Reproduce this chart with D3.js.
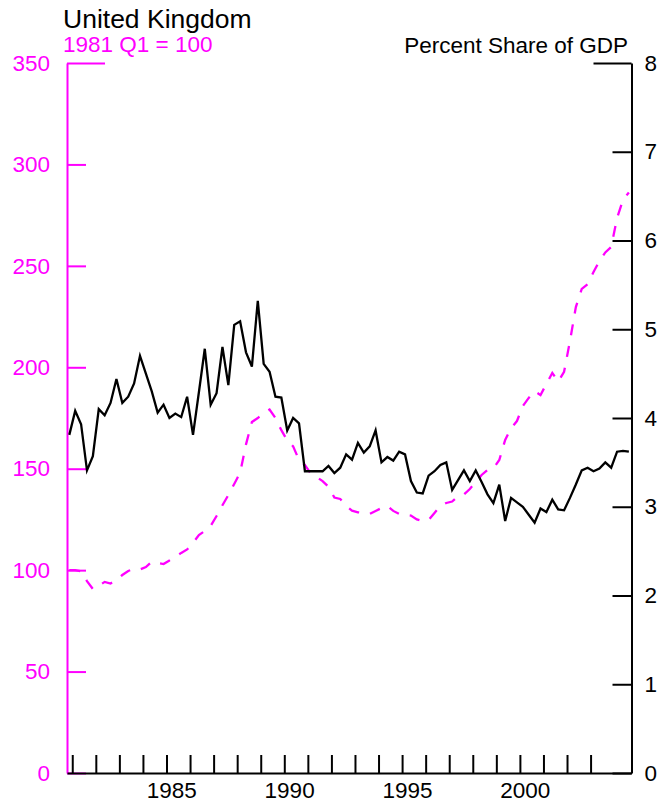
<!DOCTYPE html>
<html>
<head>
<meta charset="utf-8">
<script src="https://cdn.jsdelivr.net/npm/d3@7"></script>
<style>
  html, body { margin: 0; padding: 0; background: #fff; }
  svg { display: block; font-family: "Liberation Sans", Arial, Helvetica, sans-serif; }
</style>
</head>
<body>
<svg id="chart" width="669" height="804"></svg>
<script>
// ---- DATA ----
const years = [1981,1982,1983,1984,1985,1986,1987,1988,1989,1990,1991,1992,
               1993,1994,1995,1996,1997,1998,1999,2000,2001,2002,2003,2004];
const quarterNames = [1, 2, 3, 4];
const tickYears = [1981,1982,1983,1984,1985,1986,1987,1988,1989,1990,1991,1992,
                   1993,1994,1995,1996,1997,1998,1999,2000,2001,2002,2003];
const labelYears = [1985, 1990, 1995, 2000];
const leftTicks = [0, 50, 100, 150, 200, 250, 300, 350];
const rightTicks = [0, 1, 2, 3, 4, 5, 6, 7, 8];

// Index, 1981 Q1 = 100 (left axis, magenta dashed)
const indexSeries = [
  100.0, 100.0, 99.5, 94.6, 90.7, 92.2, 94.2, 93.4, 95.1, 97.6, 99.6, 100.6,
  100.3, 101.5, 104.2, 103.5, 103.0, 104.8, 106.5, 108.5, 110.2, 113.4, 117.3, 119.3,
  121.8, 126.7, 132.0, 137.0, 142.5, 148.0, 162.0, 173.0, 175.0, 177.5, 179.2, 175.0,
  169.0, 164.0, 161.0, 154.3, 151.8, 147.6, 145.9, 143.9, 141.1, 135.8, 135.1, 131.6,
  129.3, 128.5, 128.2, 127.7, 129.2, 130.6, 131.6, 129.2, 127.7, 127.4, 126.9, 125.0,
  124.2, 124.7, 128.2, 131.6, 133.1, 133.8, 136.5, 137.3, 140.0, 143.4, 146.9, 149.4,
  150.1, 154.3, 164.2, 170.0, 173.5, 180.9, 184.9, 188.3, 186.3, 191.8, 197.2, 192.9,
  197.8, 212.9, 229.7, 238.6, 241.0, 247.0, 252.4, 256.6, 259.3, 273.6, 282.5, 286.2
];

// Percent share of GDP (right axis, black solid)
const shareSeries = [
  3.81, 4.08, 3.93, 3.41, 3.57, 4.10, 4.03, 4.17, 4.44, 4.17, 4.24, 4.39,
  4.70, 4.50, 4.30, 4.06, 4.15, 4.00, 4.05, 4.01, 4.24, 3.81, 4.29, 4.78,
  4.15, 4.28, 4.80, 4.37, 5.05, 5.09, 4.74, 4.58, 5.32, 4.61, 4.52, 4.24,
  4.23, 3.86, 4.00, 3.94, 3.40, 3.40, 3.40, 3.40, 3.46, 3.38, 3.44, 3.59,
  3.53, 3.72, 3.61, 3.68, 3.86, 3.50, 3.56, 3.52, 3.62, 3.59, 3.29, 3.16,
  3.15, 3.35, 3.40, 3.47, 3.50, 3.19, 3.30, 3.41, 3.29, 3.41, 3.28, 3.14,
  3.04, 3.25, 2.84, 3.10, 3.05, 3.00, 2.91, 2.82, 2.98, 2.94, 3.08, 2.97,
  2.96, 3.10, 3.25, 3.41, 3.44, 3.40, 3.43, 3.50, 3.44, 3.62, 3.63, 3.62
];

const titleText = "United Kingdom";
const leftLabel = "1981 Q1 = 100";
const rightLabel = "Percent Share of GDP";

// ---- CHART ----
const MAGENTA = "#ff00ff";
const FONT = 22.5;
const svg = d3.select("#chart");
svg.append("rect").attr("width", 669).attr("height", 804).attr("fill", "#fff");

const plotLeft = 67, plotRight = 631.5, plotTop = 63, plotBottom = 773;

// quarter time values
const times = years.flatMap(y => quarterNames.map(q => y + (q - 1) / 4));

const x = d3.scaleLinear().domain([1980.902, 2004.862]).range([plotLeft, plotRight]);
const yL = d3.scaleLinear().domain([0, 350]).range([plotBottom, plotTop]);
const yR = d3.scaleLinear().domain([0, 8]).range([plotBottom, plotTop]);

// Left axis (magenta)
const gL = svg.append("g").attr("transform", `translate(${plotLeft},0)`)
  .call(d3.axisLeft(yL).tickValues(leftTicks).tickSize(-19).tickSizeOuter(0).tickPadding(17));
gL.select(".domain").attr("stroke", MAGENTA).attr("stroke-width", 2);
gL.selectAll(".tick line").attr("stroke", MAGENTA).attr("stroke-width", 2)
  .attr("x2", d => d === 350 ? 38 : 19);
gL.selectAll(".tick text").attr("fill", MAGENTA).attr("font-size", FONT)
  .attr("font-family", "Liberation Sans, Arial, sans-serif");

// Right axis (black)
const gR = svg.append("g").attr("transform", `translate(${plotRight},0)`)
  .call(d3.axisRight(yR).tickValues(rightTicks).tickSize(-19).tickSizeOuter(0).tickPadding(13));
gR.select(".domain").attr("stroke", "#000").attr("stroke-width", 2);
gR.selectAll(".tick line").attr("stroke", "#000").attr("stroke-width", 2)
  .attr("x2", d => d === 8 ? -38 : -19);
gR.selectAll(".tick text").attr("fill", "#000").attr("font-size", FONT)
  .attr("font-family", "Liberation Sans, Arial, sans-serif");

// Bottom axis (ticks pointing up)
const gB = svg.append("g").attr("transform", `translate(0,${plotBottom})`)
  .call(d3.axisBottom(x).tickValues(tickYears.map(yv => yv + 0.125))
    .tickSize(-18).tickSizeOuter(0).tickFormat(""));
gB.select(".domain").attr("stroke", "#000").attr("stroke-width", 2);
gB.selectAll(".tick line").attr("stroke", "#000").attr("stroke-width", 2);

// Year labels
const gBL = svg.append("g").attr("transform", `translate(0,${plotBottom})`)
  .call(d3.axisBottom(x).tickValues(labelYears.map(yv => yv + 0.33))
    .tickSize(0).tickPadding(9).tickFormat(v => String(Math.floor(v))));
gBL.select(".domain").remove();
gBL.selectAll(".tick text").attr("fill", "#000").attr("font-size", FONT)
  .attr("font-family", "Liberation Sans, Arial, sans-serif");

// Lines
const idxLine = d3.line().x((d, i) => x(times[i])).y(d => yL(d));
const shrLine = d3.line().x((d, i) => x(times[i])).y(d => yR(d));

svg.append("path").datum(indexSeries)
  .attr("d", idxLine).attr("fill", "none").attr("stroke", MAGENTA)
  .attr("stroke-width", 2.3).attr("stroke-dasharray", "11,11");

svg.append("path").datum(shareSeries)
  .attr("d", shrLine).attr("fill", "none").attr("stroke", "#000")
  .attr("stroke-width", 2.3).attr("stroke-linejoin", "miter");

// Titles
svg.append("text").attr("x", 63).attr("y", 28).attr("font-size", 26.5)
  .attr("fill", "#000").text(titleText);
svg.append("text").attr("x", 63).attr("y", 52).attr("font-size", FONT)
  .attr("fill", MAGENTA).text(leftLabel);
svg.append("text").attr("x", 628).attr("y", 53).attr("font-size", FONT)
  .attr("text-anchor", "end").attr("fill", "#000").text(rightLabel);
</script>
</body>
</html>
